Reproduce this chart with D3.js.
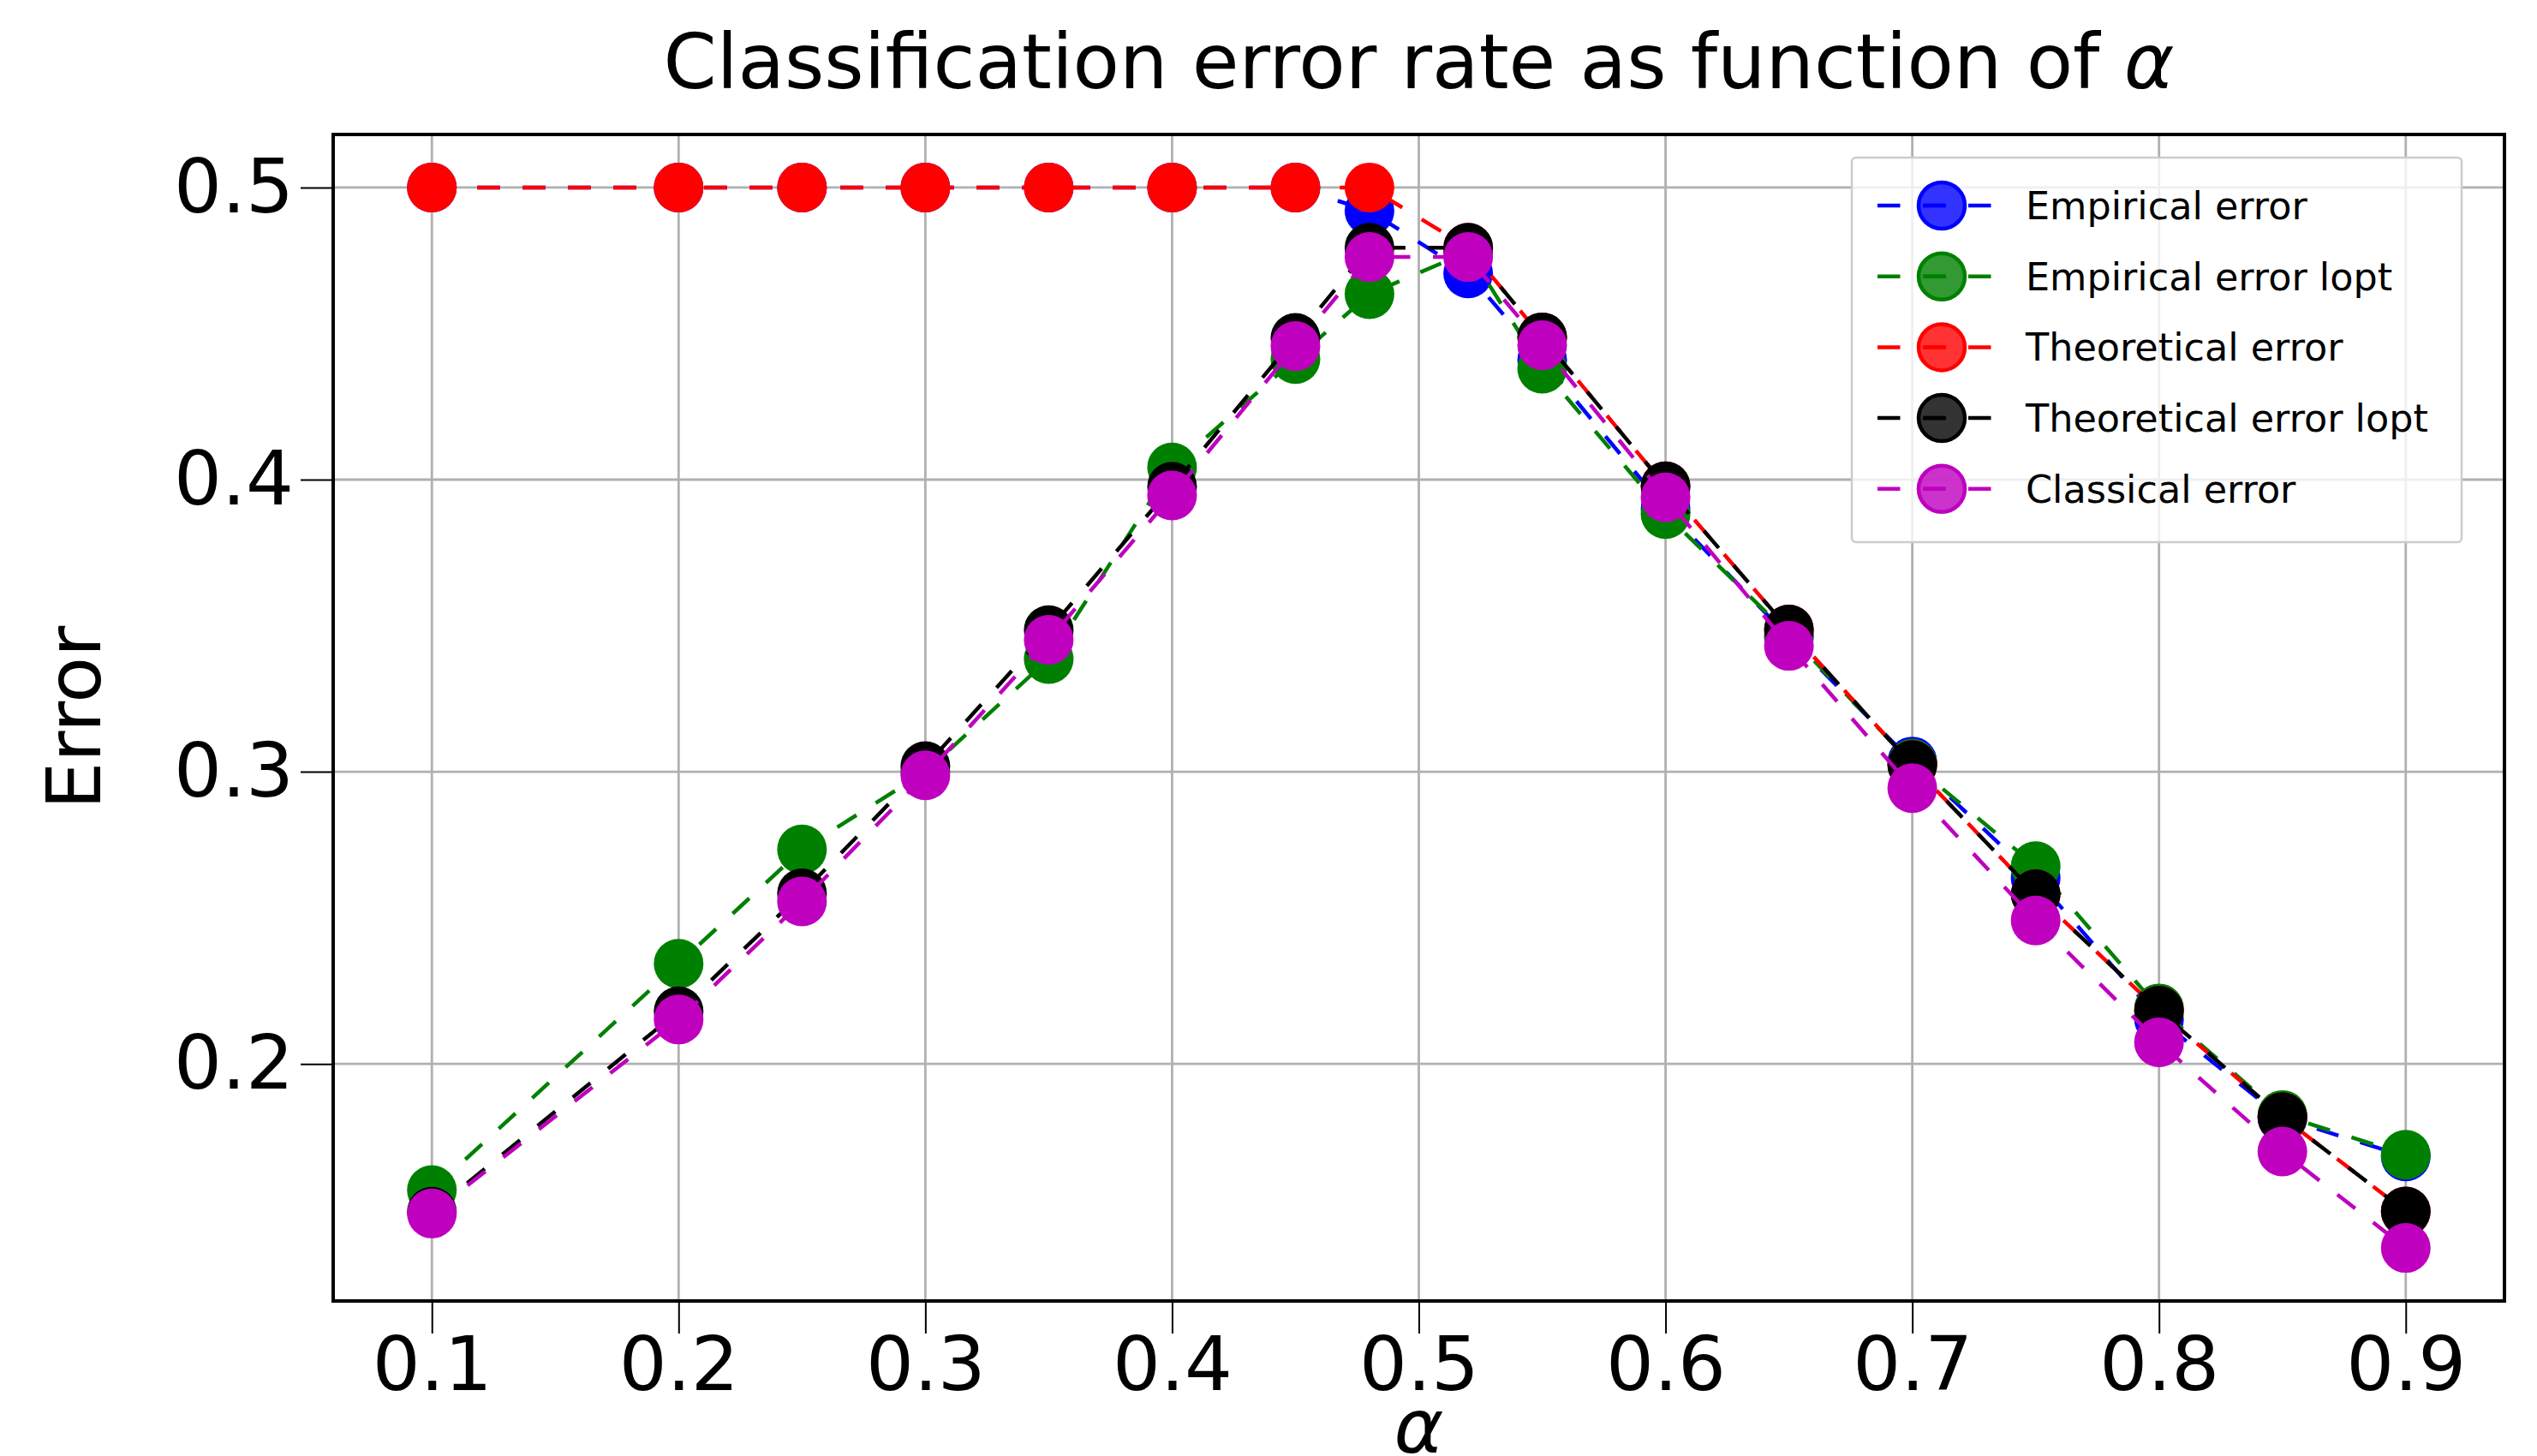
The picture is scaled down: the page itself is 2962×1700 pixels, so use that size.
<!DOCTYPE html>
<html>
<head>
<meta charset="utf-8">
<script src="https://cdn.jsdelivr.net/npm/d3@7"></script>
<style>
  html, body { margin: 0; padding: 0; background: #ffffff; }
  svg { display: block; font-family: "DejaVu Sans", sans-serif; }
</style>
</head>
<body>
<script>
// ---------------- data ----------------
const alphas = [0.1, 0.2, 0.25, 0.3, 0.35, 0.4, 0.45, 0.48, 0.52, 0.55, 0.6, 0.65, 0.7, 0.75, 0.8, 0.85, 0.9];

const empiricalError      = [0.5, 0.5, 0.5, 0.5, 0.5, 0.5, 0.5, 0.492, 0.4706, 0.441, 0.390, 0.346, 0.3035, 0.2636, 0.2153, 0.1815, 0.1683];
const empiricalErrorLopt  = [0.1568, 0.2343, 0.2734, 0.300, 0.3386, 0.4042, 0.4413, 0.4635, 0.478, 0.4380, 0.3882, 0.347, 0.3028, 0.2677, 0.219, 0.1825, 0.1689];
const theoreticalError    = [0.5, 0.5, 0.5, 0.5, 0.5, 0.5, 0.5, 0.5, 0.4794, 0.4487, 0.3977, 0.3487, 0.3023, 0.2581, 0.2182, 0.1818, 0.1495];
const theoreticalErrorLopt= [0.1494, 0.2180, 0.2584, 0.3019, 0.3485, 0.3976, 0.4485, 0.4794, 0.4794, 0.4487, 0.3977, 0.3487, 0.3023, 0.2581, 0.2182, 0.1818, 0.1495];
const classicalError      = [0.1488, 0.2152, 0.2556, 0.2988, 0.3452, 0.3946, 0.4457, 0.4762, 0.4762, 0.4460, 0.3939, 0.3431, 0.2944, 0.2491, 0.2074, 0.1700, 0.1370];

const seriesNames  = ["Empirical error", "Empirical error lopt", "Theoretical error", "Theoretical error lopt", "Classical error"];
const seriesValues = [empiricalError, empiricalErrorLopt, theoreticalError, theoreticalErrorLopt, classicalError];
const seriesColors = ["#0000ff", "#008000", "#ff0000", "#000000", "#bf00bf"];

const xTicks = [0.1, 0.2, 0.3, 0.4, 0.5, 0.6, 0.7, 0.8, 0.9];
const yTicks = [0.2, 0.3, 0.4, 0.5];

// ---------------- layout ----------------
const W = 2962, H = 1700;
const M = { left: 389, right: 2924, top: 157, bottom: 1519 };
const markerR = 29;
const lineW = 4.5;
const dash = "26.5,26.5";
const tickFont = 88;

const svg = d3.select("body").append("svg")
  .attr("width", W).attr("height", H)
  .attr("viewBox", `0 0 ${W} ${H}`);

svg.append("rect").attr("width", W).attr("height", H).attr("fill", "#ffffff");

// domains with 5% margins (matplotlib-like)
const allVals = seriesValues.flat();
const yMin = d3.min(allVals), yMax = d3.max(allVals);
const xMin = d3.min(alphas), xMax = d3.max(alphas);
const xPad = (xMax - xMin) * 0.05, yPad = (yMax - yMin) * 0.05;

const x = d3.scaleLinear().domain([xMin - xPad, xMax + xPad]).range([M.left, M.right]);
const y = d3.scaleLinear().domain([yMin - yPad, yMax + yPad]).range([M.bottom, M.top]);

const plotW = M.right - M.left, plotH = M.bottom - M.top;

svg.append("clipPath").attr("id", "plotclip")
  .append("rect").attr("x", M.left).attr("y", M.top).attr("width", plotW).attr("height", plotH);

// ---------------- grid ----------------
const grid = svg.append("g");
grid.selectAll(".vg").data(xTicks).join("line")
  .attr("x1", d => x(d)).attr("x2", d => x(d))
  .attr("y1", M.top).attr("y2", M.bottom)
  .attr("stroke", "#b0b0b0").attr("stroke-width", 2.8);
grid.selectAll(".hg").data(yTicks).join("line")
  .attr("x1", M.left).attr("x2", M.right)
  .attr("y1", d => y(d)).attr("y2", d => y(d))
  .attr("stroke", "#b0b0b0").attr("stroke-width", 2.8);

// ---------------- series ----------------
const plot = svg.append("g").attr("clip-path", "url(#plotclip)");
const lineGen = d3.line().x(d => x(d[0])).y(d => y(d[1]));

seriesValues.forEach((vals, i) => {
  const pts = alphas.map((a, j) => [a, vals[j]]);
  const g = plot.append("g");
  g.append("path").datum(pts)
    .attr("d", lineGen)
    .attr("fill", "none")
    .attr("stroke", seriesColors[i])
    .attr("stroke-width", lineW)
    .attr("stroke-dasharray", dash);
  g.selectAll("circle").data(pts).join("circle")
    .attr("cx", d => x(d[0])).attr("cy", d => y(d[1]))
    .attr("r", markerR)
    .attr("fill", seriesColors[i]);
});

// ---------------- axes ----------------
const xAxis = d3.axisBottom(x).tickValues(xTicks).tickSize(38).tickPadding(4)
  .tickFormat(d3.format(".1f"));
const gx = svg.append("g").attr("transform", `translate(0,${M.bottom})`).call(xAxis);
gx.select(".domain").remove();
gx.selectAll(".tick line").attr("stroke", "#000").attr("stroke-width", 2);
gx.selectAll(".tick text").attr("font-size", tickFont).attr("fill", "#000")
  .attr("font-family", "DejaVu Sans");

const yAxis = d3.axisLeft(y).tickValues(yTicks).tickSize(38).tickPadding(8)
  .tickFormat(d3.format(".1f"));
const gy = svg.append("g").attr("transform", `translate(${M.left},0)`).call(yAxis);
gy.select(".domain").remove();
gy.selectAll(".tick line").attr("stroke", "#000").attr("stroke-width", 2);
gy.selectAll(".tick text").attr("font-size", tickFont).attr("fill", "#000")
  .attr("font-family", "DejaVu Sans");

// frame
svg.append("rect").attr("x", M.left).attr("y", M.top).attr("width", plotW).attr("height", plotH)
  .attr("fill", "none").attr("stroke", "#000").attr("stroke-width", 4);

// ---------------- titles ----------------
const title = svg.append("text")
  .attr("x", (M.left + M.right) / 2).attr("y", 103)
  .attr("text-anchor", "middle").attr("font-size", 89).attr("fill", "#000");
title.append("tspan").text("Classification error rate as function of ");
title.append("tspan").attr("font-style", "italic").text("α");

svg.append("text")
  .attr("x", (M.left + M.right) / 2).attr("y", 1696)
  .attr("text-anchor", "middle").attr("font-size", 88).attr("font-style", "italic")
  .attr("fill", "#000").text("α");

svg.append("text")
  .attr("transform", `translate(117,${(M.top + M.bottom) / 2}) rotate(-90)`)
  .attr("text-anchor", "middle").attr("font-size", 88).attr("fill", "#000").text("Error");

// ---------------- legend ----------------
const L = { x: 2162, y: 184, w: 712, h: 449, row0: 56, rowH: 82.7 };
const leg = svg.append("g");
leg.append("rect").attr("x", L.x).attr("y", L.y).attr("width", L.w).attr("height", L.h)
  .attr("rx", 5).attr("fill", "rgba(255,255,255,0.8)")
  .attr("stroke", "#cccccc").attr("stroke-width", 2.5);

seriesNames.forEach((name, i) => {
  const cy = L.y + L.row0 + i * L.rowH;
  const g = leg.append("g");
  g.append("line").attr("x1", L.x + 30).attr("x2", L.x + 163)
    .attr("y1", cy).attr("y2", cy)
    .attr("stroke", seriesColors[i]).attr("stroke-width", lineW)
    .attr("stroke-dasharray", dash);
  g.append("circle").attr("cx", L.x + 105).attr("cy", cy).attr("r", markerR - 2)
    .attr("fill", seriesColors[i]).attr("fill-opacity", 0.8)
    .attr("stroke", seriesColors[i]).attr("stroke-width", 4.5);
  g.append("line").attr("x1", L.x + 83).attr("x2", L.x + 110)
    .attr("y1", cy).attr("y2", cy)
    .attr("stroke", seriesColors[i]).attr("stroke-width", lineW);
  g.append("text").attr("x", L.x + 203).attr("y", cy).attr("dy", "0.36em")
    .attr("font-size", 44.5).attr("fill", "#000").text(name);
});
</script>
</body>
</html>
